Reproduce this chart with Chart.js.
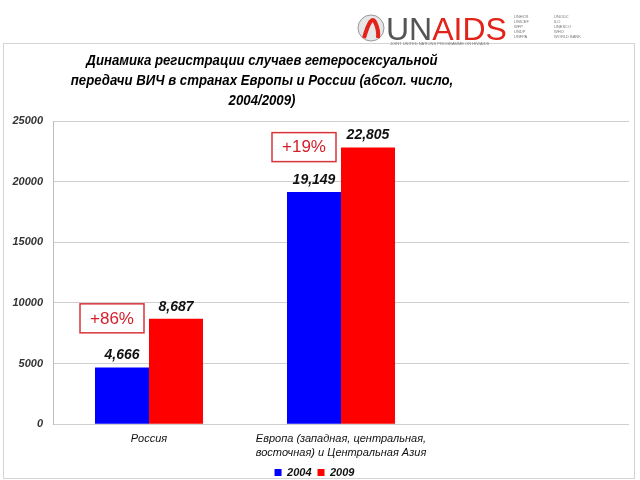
<!DOCTYPE html>
<html>
<head>
<meta charset="utf-8">
<script src="https://cdn.jsdelivr.net/npm/chart.js@4.4.1/dist/chart.umd.min.js"></script>
<style>
  html, body { margin: 0; padding: 0; background: #fff; }
  #wrap { position: relative; width: 640px; height: 480px; }
</style>
</head>
<body>
<div id="wrap"><canvas id="hivChart" width="640" height="480"></canvas></div>
<script>
// categories (third slot left empty as in the original slide)
const categories = [
    'Россия',
    ['Европа (западная, центральная,', 'восточная) и Центральная Азия'],
    ''
];
const years = ['2004', '2009'];
const values2004 = [4666, 19149, null];
const values2009 = [8687, 22805, null];
const growthLabels = ['+86%', '+19%'];
const yTicks = [0, 5000, 10000, 15000, 20000, 25000];

const titleLines = [
    'Динамика регистрации случаев гетеросексуальной',
    'передачи ВИЧ в странах Европы и России (абсол. число,',
    '2004/2009)'
];

const FONT = '"Liberation Sans", Arial, sans-serif';

function fmt(v) {
    return String(v).replace(/\B(?=(\d{3})+(?!\d))/g, ',');
}

// frame, title, logo, value labels, growth boxes
const slidePlugin = {
    id: 'slide',
    beforeDraw(chart) {
        const ctx = chart.ctx;
        ctx.save();
        ctx.strokeStyle = '#d4d4d4';
        ctx.lineWidth = 1;
        ctx.strokeRect(3.5, 43.5, 631, 435);

        // title (slightly condensed like the original)
        ctx.save();
        ctx.translate(262, 0);
        ctx.scale(0.88, 1);
        ctx.fillStyle = '#000';
        ctx.font = 'italic bold 15px ' + FONT;
        ctx.textAlign = 'center';
        ctx.textBaseline = 'middle';
        titleLines.forEach((t, i) => ctx.fillText(t, 0, 61 + i * 20));
        ctx.restore();

        // UNAIDS logo
        ctx.beginPath();
        ctx.arc(371, 28, 13, 0, Math.PI * 2);
        ctx.fillStyle = '#e6e6e6';
        ctx.fill();
        ctx.strokeStyle = '#999';
        ctx.stroke();
        ctx.strokeStyle = '#e2231a';
        ctx.lineWidth = 4;
        ctx.beginPath();
        ctx.moveTo(364, 38);
        ctx.quadraticCurveTo(371, 14, 375, 22);
        ctx.quadraticCurveTo(379, 30, 378, 38);
        ctx.stroke();
        ctx.textAlign = 'left';
        ctx.textBaseline = 'alphabetic';
        ctx.font = '32px ' + FONT;
        ctx.fillStyle = '#555';
        ctx.fillText('UN', 386, 40);
        const unW = ctx.measureText('UN').width;
        ctx.fillStyle = '#e2231a';
        ctx.fillText('AIDS', 386 + unW, 40);
        ctx.fillStyle = '#777';
        ctx.font = '4px ' + FONT;
        ['UNHCR', 'UNICEF', 'WFP', 'UNDP', 'UNFPA'].forEach((t, i) => ctx.fillText(t, 514, 18 + i * 5));
        ['UNODC', 'ILO', 'UNESCO', 'WHO', 'WORLD BANK'].forEach((t, i) => ctx.fillText(t, 554, 18 + i * 5));
        ctx.fillText('JOINT UNITED NATIONS PROGRAMME ON HIV/AIDS', 390, 45);
        ctx.restore();
    },
    afterDatasetsDraw(chart) {
        const ctx = chart.ctx;
        const y = chart.scales.y;
        ctx.save();
        ctx.font = 'italic bold 14px ' + FONT;
        ctx.fillStyle = '#111';
        ctx.textAlign = 'center';
        ctx.textBaseline = 'bottom';
        chart.data.datasets.forEach((ds, di) => {
            chart.getDatasetMeta(di).data.forEach((bar, i) => {
                if (ds.data[i] == null) return;
                ctx.fillText(fmt(ds.data[i]), bar.x, bar.y - 5);
            });
        });
        // growth boxes
        const blue = chart.getDatasetMeta(0).data;
        growthLabels.forEach((g, i) => {
            const cx = blue[i].x - 10;
            const cy = y.getPixelForValue(values2009[i]);
            ctx.fillStyle = '#fff';
            ctx.fillRect(cx - 32, cy - 15, 64, 29);
            ctx.strokeStyle = '#d9343a';
            ctx.lineWidth = 1.5;
            ctx.strokeRect(cx - 32, cy - 15, 64, 29);
            ctx.fillStyle = '#d41f2b';
            ctx.font = '17px ' + FONT;
            ctx.textBaseline = 'middle';
            ctx.fillText(g, cx, cy);
        });
        ctx.restore();
    }
};

const config = {
    type: 'bar',
    data: {
        labels: categories,
        datasets: [
            { label: years[0], data: values2004, backgroundColor: '#0000ff' },
            { label: years[1], data: values2009, backgroundColor: '#ff0000' }
        ]
    },
    options: {
        responsive: false,
        animation: false,
        layout: { padding: { left: 0, right: 11, top: 121, bottom: -8 } },
        datasets: { bar: { categoryPercentage: 0.5625, barPercentage: 1 } },
        scales: {
            x: {
                grid: { display: false, drawTicks: false },
                border: { display: false },
                ticks: {
                    color: '#111',
                    padding: 8,
                    maxRotation: 0,
                    autoSkip: false,
                    font: { family: FONT, size: 11, style: 'italic', lineHeight: 1.25 }
                },
                afterFit(scale) { scale.height = 36.8; }
            },
            y: {
                min: 0,
                max: 25000,
                afterBuildTicks(scale) { scale.ticks = yTicks.map(v => ({ value: v })); },
                grid: { color: '#cfcfcf', drawTicks: false },
                border: { color: '#bdbdbd' },
                ticks: {
                    color: '#333',
                    padding: 10,
                    callback: v => String(v),
                    font: { family: FONT, size: 11, style: 'italic', weight: 'bold' }
                },
                afterFit(scale) { scale.width = 53; }
            }
        },
        plugins: {
            legend: {
                position: 'bottom',
                labels: {
                    boxWidth: 7,
                    boxHeight: 7,
                    padding: 6,
                    color: '#111',
                    font: { family: FONT, size: 11, style: 'italic', weight: 'bold' }
                }
            },
            title: { display: false },
            tooltip: { enabled: false }
        }
    },
    plugins: [slidePlugin]
};

window.onload = function() {
    const ctx = document.getElementById('hivChart').getContext('2d');
    new Chart(ctx, config);
};
</script>
</body>
</html>
